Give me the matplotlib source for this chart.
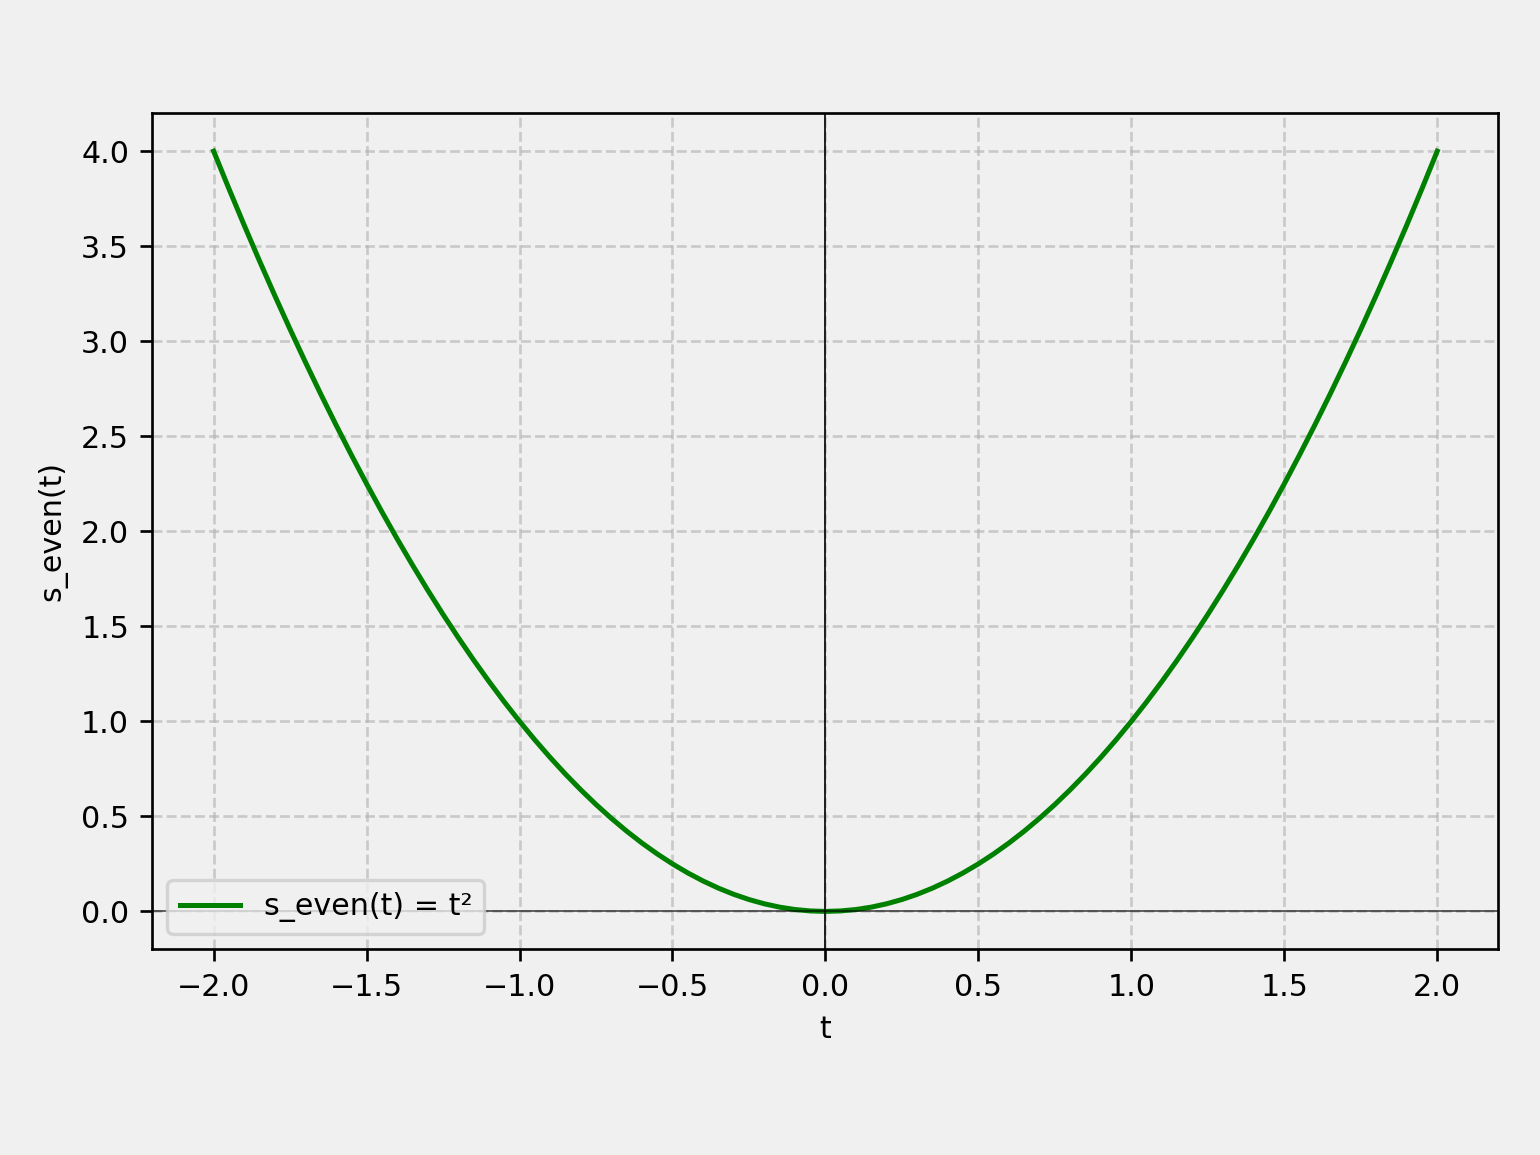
import matplotlib
matplotlib.use("Agg")
import matplotlib.pyplot as plt

# values, t from -2.0 to 2.0 in steps of 0.05
t = [-2.0, -1.95, -1.9, -1.85, -1.8, -1.75, -1.7, -1.65, -1.6, -1.55,
     -1.5, -1.45, -1.4, -1.35, -1.3, -1.25, -1.2, -1.15, -1.1, -1.05,
     -1.0, -0.95, -0.9, -0.85, -0.8, -0.75, -0.7, -0.65, -0.6, -0.55,
     -0.5, -0.45, -0.4, -0.35, -0.3, -0.25, -0.2, -0.15, -0.1, -0.05,
     0.0, 0.05, 0.1, 0.15, 0.2, 0.25, 0.3, 0.35, 0.4, 0.45,
     0.5, 0.55, 0.6, 0.65, 0.7, 0.75, 0.8, 0.85, 0.9, 0.95,
     1.0, 1.05, 1.1, 1.15, 1.2, 1.25, 1.3, 1.35, 1.4, 1.45,
     1.5, 1.55, 1.6, 1.65, 1.7, 1.75, 1.8, 1.85, 1.9, 1.95, 2.0]
s_even = [4.0, 3.8025, 3.61, 3.4225, 3.24, 3.0625, 2.89, 2.7225, 2.56, 2.4025,
          2.25, 2.1025, 1.96, 1.8225, 1.69, 1.5625, 1.44, 1.3225, 1.21, 1.1025,
          1.0, 0.9025, 0.81, 0.7225, 0.64, 0.5625, 0.49, 0.4225, 0.36, 0.3025,
          0.25, 0.2025, 0.16, 0.1225, 0.09, 0.0625, 0.04, 0.0225, 0.01, 0.0025,
          0.0, 0.0025, 0.01, 0.0225, 0.04, 0.0625, 0.09, 0.1225, 0.16, 0.2025,
          0.25, 0.3025, 0.36, 0.4225, 0.49, 0.5625, 0.64, 0.7225, 0.81, 0.9025,
          1.0, 1.1025, 1.21, 1.3225, 1.44, 1.5625, 1.69, 1.8225, 1.96, 2.1025,
          2.25, 2.4025, 2.56, 2.7225, 2.89, 3.0625, 3.24, 3.4225, 3.61, 3.8025, 4.0]

plt.rcParams["font.size"] = 9
bg = "#f0f0f0"
fig, ax = plt.subplots(figsize=(6.4, 4.8), dpi=240.625)
fig.patch.set_facecolor(bg)
ax.set_facecolor(bg)
fig.subplots_adjust(left=0.099, right=0.973, top=0.902, bottom=0.178)

ax.plot(t, s_even, color="green", linewidth=1.5, label="s_even(t) = t²")
ax.axhline(0, color="black", linewidth=0.5, alpha=0.7)
ax.axvline(0, color="black", linewidth=0.5)
ax.grid(True, linestyle="--", alpha=0.6)
ax.set_xlabel("t")
ax.set_ylabel("s_even(t)")
ax.legend(loc="lower left", facecolor=bg)

fig.savefig("out.png", dpi=240.625, facecolor=bg)
